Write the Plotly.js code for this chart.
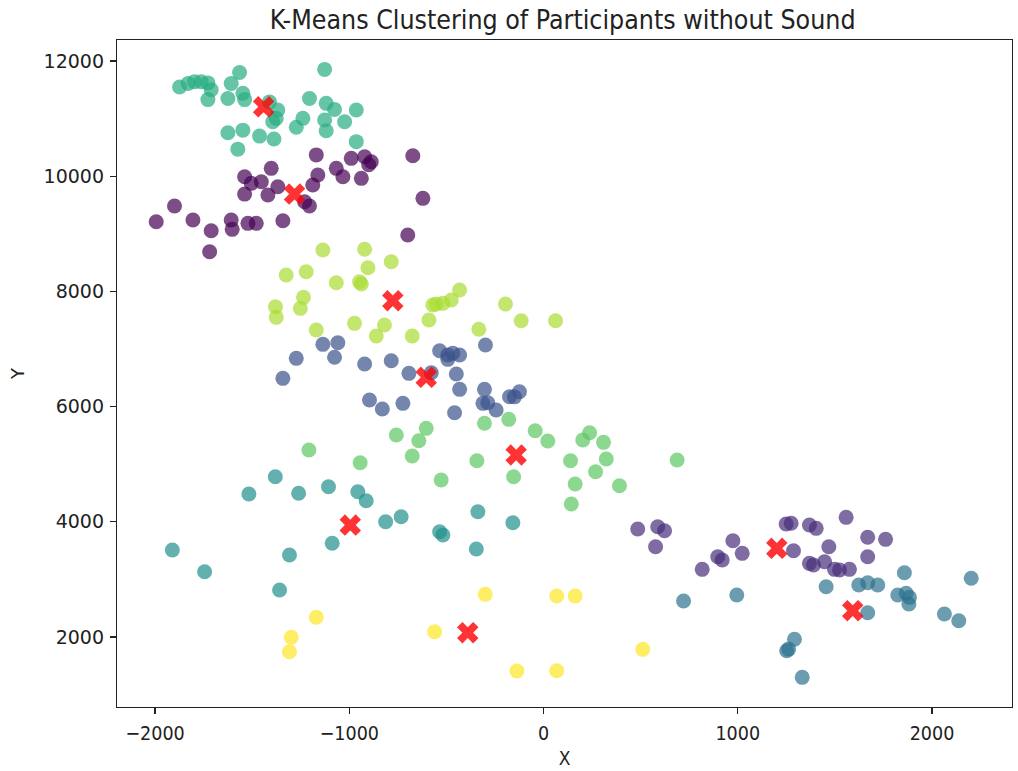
<!DOCTYPE html>
<html>
<head>
<meta charset="utf-8">
<script src="https://cdn.plot.ly/plotly-3.0.1.min.js"></script>
<style>html,body{margin:0;padding:0;background:#fff;}#chart{width:1018px;height:771px;}</style>
</head>
<body>
<div id="chart"></div>
<script>
// Cluster 0 (dark purple, upper left)
const c0x = [-1170,-1402,-1539,-1505,-1453,-1368,-1539,-1419,-1162,-1188,-1067,-1033,-990,-921,-887,-938,-673,-621,-1230,-1205,-1900,-1994,-1805,-1711,-1719,-1608,-1603,-1522,-1479,-1342,-699,-900];
const c0y = [10370,10137,9990,9876,9904,9817,9690,9673,10020,9847,10137,9990,10310,10338,10251,9963,10355,9616,9557,9482,9482,9210,9239,9053,8689,9239,9078,9182,9182,9227,8979,10200];
// Cluster 1 (purple, right)
const c1x = [485,588,623,577,817,897,920,975,1023,1249,1275,1369,1404,1558,1287,1469,1369,1447,1498,1524,1575,1669,1761,1669,1390];
const c1y = [3875,3915,3845,3568,3175,3394,3337,3672,3453,3962,3974,3944,3887,4078,3498,3568,3279,3307,3175,3163,3175,3731,3696,3394,3250];
// Cluster 2 (blue, middle)
const c2x = [-1136,-1059,-1273,-1076,-1342,-921,-784,-693,-578,-535,-493,-467,-432,-493,-299,-449,-432,-896,-830,-724,-458,-304,-312,-287,-244,-175,-124,-150];
const c2y = [7081,7109,6838,6856,6491,6739,6797,6578,6588,6970,6896,6925,6896,6821,7069,6566,6300,6114,5958,6057,5894,6300,6057,6067,5941,6172,6258,6170];
// Cluster 3 (blue-teal, lower right)
const c3x = [721,995,1455,1623,1669,1721,1858,1824,1867,1884,1881,1669,2064,2138,2202,1292,1252,1332,1262];
const c3y = [2625,2729,2873,2903,2943,2903,3116,2729,2759,2689,2573,2422,2399,2283,3019,1960,1762,1300,1790];
// Cluster 4 (teal, lower left)
const c4x = [-1381,-1517,-1261,-1107,-956,-913,-813,-733,-535,-518,-1088,-1308,-1911,-1745,-1359,-338,-158,-346];
const c4y = [4783,4482,4495,4609,4522,4366,4002,4088,3828,3771,3627,3424,3510,3134,2816,4175,3984,3528];
// Cluster 5 (green, top)
const c5x = [-1874,-1830,-1797,-1762,-1728,-1711,-1728,-1565,-1608,-1625,-1548,-1539,-1411,-1368,-1376,-1394,-1127,-1205,-1119,-1076,-964,-1239,-1273,-1127,-1119,-1024,-964,-1625,-1548,-1462,-1388,-1574];
const c5y = [11550,11610,11640,11640,11620,11500,11330,11800,11610,11350,11440,11330,11290,11150,11005,10946,11855,11350,11265,11160,11150,11005,10850,10975,10790,10946,10600,10755,10800,10697,10645,10470];
// Cluster 6 (light green, centre)
const c6x = [-758,-604,-304,-179,-43,22,-343,-154,-527,139,202,237,309,323,268,163,391,143,688,-1208,-944,-642,-676];
const c6y = [5507,5623,5710,5779,5581,5403,5061,4783,4726,5061,5420,5547,5380,5090,4870,4656,4627,4309,5073,5246,5026,5408,5142];
// Cluster 7 (yellow-green)
const c7x = [-1136,-921,-784,-904,-1325,-1222,-1067,-947,-938,-1236,-1252,-1380,-1376,-432,-475,-518,-552,-570,-196,-115,62,-590,-973,-819,-861,-676,-333,-1170];
const c7y = [8718,8731,8515,8411,8284,8342,8151,8168,8128,7897,7706,7734,7550,8024,7850,7793,7781,7764,7781,7491,7491,7503,7446,7416,7225,7225,7342,7330];
// Cluster 8 (yellow, bottom)
const c8x = [-1170,-1299,-1308,-561,-300,68,163,511,-137,68];
const c8y = [2342,1995,1745,2092,2741,2712,2712,1786,1410,1415];
// Centroids
const centX = [-1441,-1282,-776,-604,-141,-995,-390,1201,1592];
const centY = [11206,9690,7838,6508,5160,3944,2075,3540,2457];

// Tick labels
const xTickVals = [-2000,-1000,0,1000,2000];
const xTickText = ['−2000','−1000','0','1000','2000'];
const yTickVals = [2000,4000,6000,8000,10000,12000];
const yTickText = ['2000','4000','6000','8000','10000','12000'];

const clusterX = [c0x,c1x,c2x,c3x,c4x,c5x,c6x,c7x,c8x];
const clusterY = [c0y,c1y,c2y,c3y,c4y,c5y,c6y,c7y,c8y];
const colors = ['#440154','#472d7b','#3b528b','#2c728e','#21908c','#27ad81','#5dc863','#aadc32','#fde725'];

const traces = clusterX.map((xs, i) => ({
  type: 'scatter', mode: 'markers', x: xs, y: clusterY[i],
  marker: {size: 15, color: colors[i], opacity: 0.7, line: {width: 0}},
  hoverinfo: 'skip', showlegend: false
}));
traces.push({
  type: 'scatter', mode: 'markers', x: centX, y: centY,
  marker: {size: 19, symbol: 'x', color: 'red', opacity: 0.8, line: {width: 0}},
  hoverinfo: 'skip', showlegend: false
});

const condensed = '"DejaVu Sans Condensed", "Liberation Sans Narrow", "DejaVu Sans", sans-serif';
const axisCommon = {
  showline: true, linecolor: '#222', linewidth: 1.2, mirror: true,
  ticks: 'outside', ticklen: 6, tickwidth: 1.2, tickcolor: '#222',
  showgrid: false, zeroline: false
};

const layout = {
  width: 1018, height: 771,
  margin: {l: 117, r: 6, t: 40, b: 64},
  paper_bgcolor: '#fff', plot_bgcolor: '#fff',
  title: {text: 'K-Means Clustering of Participants without Sound', x: 0.265, xanchor: 'left', y: 0.975, yanchor: 'middle',
          font: {family: condensed, size: 26.5, color: '#222'}},
  xaxis: Object.assign({}, axisCommon, {range: [-2196, 2412], tickmode: 'array', tickvals: xTickVals, ticktext: xTickText,
          tickfont: {family: condensed, size: 19.5, color: '#222'}, ticklabelstandoff: 2,
          title: {text: 'X', font: {family: condensed, size: 19, color: '#222'}, standoff: 8}}),
  yaxis: Object.assign({}, axisCommon, {range: [785, 12365], tickmode: 'array', tickvals: yTickVals, ticktext: yTickText,
          tickfont: {family: 'DejaVu Sans', size: 19, color: '#222'}, ticklabelstandoff: 2,
          title: {text: 'Y', font: {family: 'DejaVu Sans', size: 18, color: '#222'}, standoff: 14}}),
  showlegend: false
};

Plotly.newPlot('chart', traces, layout, {displayModeBar: false, staticPlot: true});
</script>
</body>
</html>
